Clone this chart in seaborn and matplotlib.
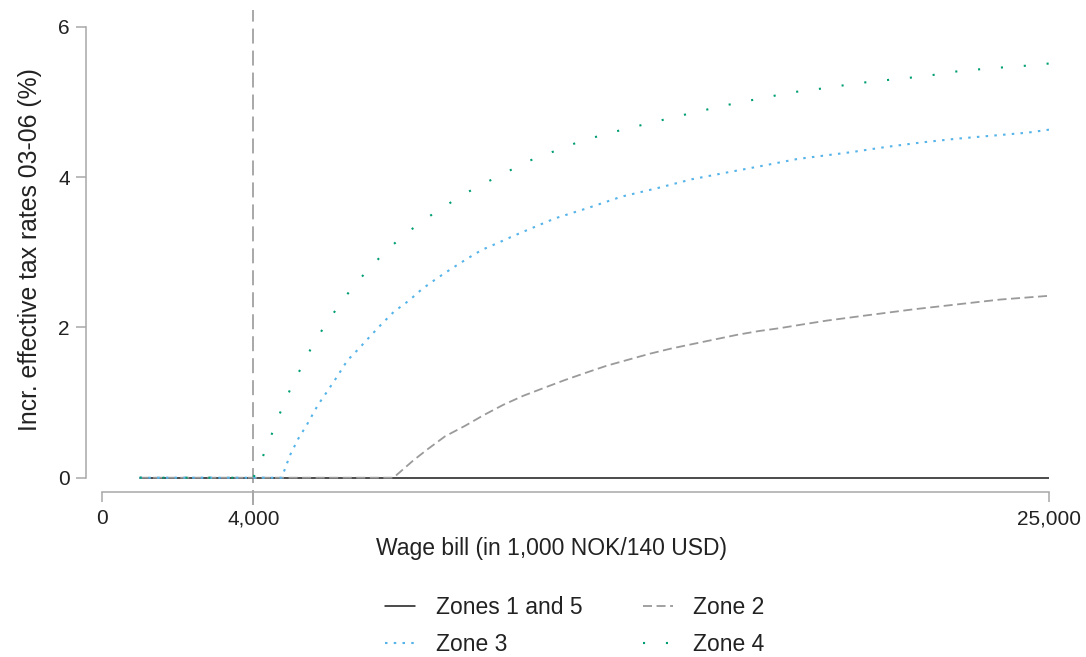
import numpy as np
import pandas as pd
import matplotlib
matplotlib.use("Agg")
import matplotlib.pyplot as plt
import seaborn as sns

# ---- data ----
zone15_x = [1000, 25000]
zone15_y = [0.0, 0.0]

zone2_x = [1000, 7700, 8224, 8577, 9060, 9588, 10071, 10599, 11127, 11699, 12227,
           12800, 13328, 13898, 14469, 15043, 15613, 16186, 16759, 17329, 17902,
           18385, 19134, 20190, 21421, 22652, 23708, 25000]
zone2_y = [0.0, 0.0, 0.23, 0.37, 0.55, 0.69, 0.83, 0.97, 1.09, 1.20, 1.30,
           1.40, 1.49, 1.57, 1.65, 1.72, 1.78, 1.84, 1.90, 1.95, 1.99,
           2.03, 2.09, 2.16, 2.24, 2.31, 2.37, 2.42]

zone3_x = [1000, 4750, 4970, 5189, 5410, 5709, 5955, 6219, 6483, 6773, 7082, 7398,
           7715, 8118, 8454, 8841, 9228, 9633, 10029, 10441, 10882, 11303, 11963,
           12843, 13724, 14647, 15571, 16495, 17444, 18359, 19768, 20700, 21632,
           22566, 23497, 24430, 25000]
zone3_y = [0.0, 0.0, 0.30, 0.52, 0.70, 0.97, 1.15, 1.35, 1.56, 1.71, 1.88, 2.05,
           2.21, 2.36, 2.51, 2.65, 2.78, 2.91, 3.03, 3.12, 3.22, 3.31, 3.45,
           3.59, 3.74, 3.85, 3.97, 4.06, 4.15, 4.24, 4.33, 4.40, 4.46,
           4.51, 4.55, 4.59, 4.63]

zone4_x = [1000, 4000, 4204, 4345, 4530, 4680, 4996, 5604, 5928, 6298, 6588, 7082,
           7618, 8084, 8823, 9623, 10500, 11303, 12605, 13354, 14558, 15640, 16706,
           17646, 18112, 19045, 19979, 20910, 21702, 22634, 23558, 24368, 25000]
zone4_y = [0.0, 0.0, 0.21, 0.41, 0.63, 0.83, 1.20, 1.80, 2.05, 2.32, 2.51, 2.80,
           3.07, 3.27, 3.54, 3.79, 4.02, 4.22, 4.47, 4.58, 4.73, 4.86, 4.98,
           5.07, 5.12, 5.18, 5.25, 5.30, 5.34, 5.41, 5.45, 5.48, 5.51]

xticks = [0, 4000, 25000]
xtick_labels = ["0", "4,000", "25,000"]
yticks = [0, 2, 4, 6]
threshold = 4000

labels = ["Zones 1 and 5", "Zone 2", "Zone 3", "Zone 4"]

# ---- style ----
sns.set_theme(style="white")
plt.rcParams["font.family"] = ["Liberation Sans", "DejaVu Sans"]
TEXT = "#222222"
AXC = "#a8a8a8"

fig = plt.figure(figsize=(10.86, 6.57), dpi=100)
ax = fig.add_axes([101.7 / 1086, (657 - 505) / 657, 947.3 / 1086, 495 / 657])

ax.axvline(threshold, color=AXC, lw=1.4, linestyle=(0, (7.7, 3.6)), zorder=1)

sns.lineplot(x=zone15_x, y=zone15_y, ax=ax, color="#1a1a1a", lw=1.1,
             label=labels[0], zorder=2)
sns.lineplot(x=zone2_x, y=zone2_y, ax=ax, color="#9a9a9a", lw=1.3,
             linestyle=(0, (5, 2.5)), label=labels[1], zorder=3)
sns.lineplot(x=zone3_x, y=zone3_y, ax=ax, color="#56b4e9", lw=1.5,
             linestyle=(0, (1.2, 3)), label=labels[2], zorder=4)
sns.lineplot(x=zone4_x, y=zone4_y, ax=ax, color="#009e73", lw=1.5,
             linestyle=(0, (1, 10)), label=labels[3], zorder=5)

leg = ax.get_legend()
if leg is not None:
    leg.remove()

ax.set_xlim(0, 25000)
ax.set_ylim(-0.363, 6.222)

for s in ["top", "right"]:
    ax.spines[s].set_visible(False)
ax.spines["left"].set_position(("outward", 11.5))
ax.spines["left"].set_bounds(0, 6)
ax.spines["bottom"].set_position(("data", -0.19))
ax.spines["bottom"].set_bounds(0, 25000)
for s in ["left", "bottom"]:
    ax.spines[s].set_color(AXC)
    ax.spines[s].set_linewidth(1.1)

ax.set_xticks(xticks)
ax.set_xticklabels(xtick_labels)
ax.set_yticks(yticks)
ax.set_yticklabels([str(v) for v in yticks])
ax.tick_params(axis="both", direction="out", length=7.5, width=1.1, color=AXC,
               labelsize=15, labelcolor=TEXT, left=True, bottom=True)
ax.tick_params(axis="y", pad=4)
ax.tick_params(axis="x", pad=5)

ax.set_xlabel("Wage bill (in 1,000 NOK/140 USD)", fontsize=16.5, color=TEXT)
ax.set_ylabel("Incr. effective tax rates 03-06 (%)", fontsize=17.8, color=TEXT)
ax.xaxis.set_label_coords((552 - 101.7) / 947.3, (505 - 548) / 495, transform=ax.transAxes)
ax.yaxis.set_label_coords((30 - 101.7) / 947.3, (505 - 250) / 495, transform=ax.transAxes)
ax.xaxis.label.set_verticalalignment("center")
ax.yaxis.label.set_verticalalignment("center")

handles, hl = ax.get_legend_handles_labels()
order = [0, 2, 1, 3]  # matplotlib fills by column; reference reads row-wise
fig.legend([handles[i] for i in order], [hl[i] for i in order],
           loc="center", bbox_to_anchor=(575 / 1086, 1 - 626 / 657),
           ncol=2, frameon=False, fontsize=16.5, handlelength=1.3,
           handletextpad=0.9, columnspacing=2.65, labelspacing=0.6,
           labelcolor=TEXT)

ax.set_facecolor("white")
fig.patch.set_facecolor("white")
fig.savefig("out.png", dpi=100, facecolor="white")
